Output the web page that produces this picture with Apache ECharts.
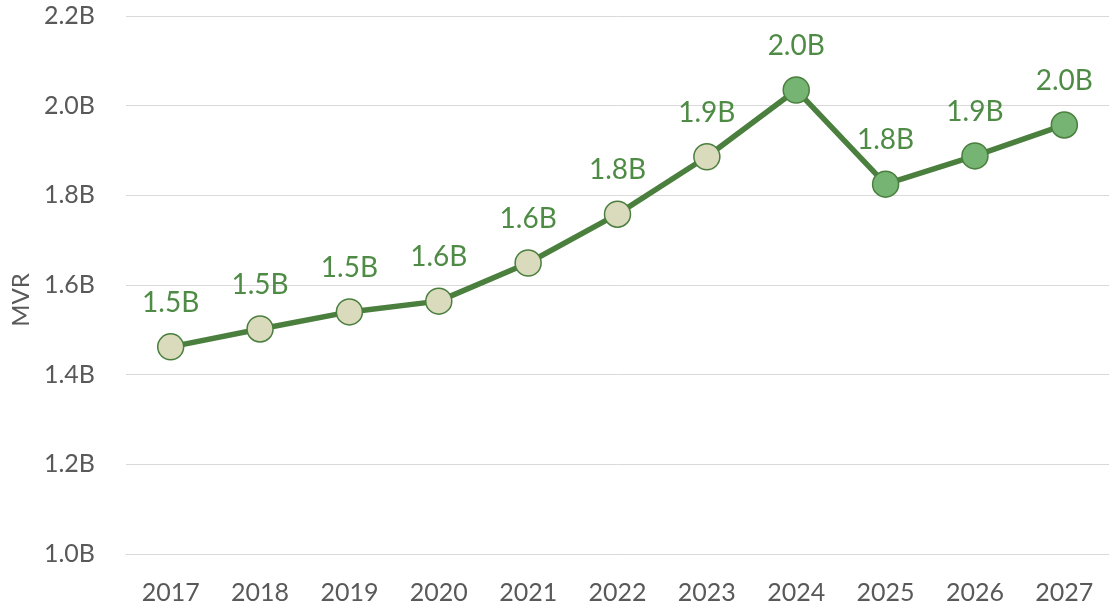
<!DOCTYPE html>
<html>
<head>
<meta charset="utf-8">
<script src="https://cdn.jsdelivr.net/npm/echarts@6/dist/echarts.min.js"></script>
<style>
  html, body { margin: 0; padding: 0; background: #fff; }
  #chart { width: 1109px; height: 605px; }
</style>
</head>
<body>
<div id="chart"></div>
<script>
var years = ['2017', '2018', '2019', '2020', '2021', '2022', '2023', '2024', '2025', '2026', '2027'];
var mvr = [1.462, 1.502, 1.540, 1.564, 1.649, 1.758, 1.886, 2.035, 1.825, 1.888, 1.957];
var forecast = [false, false, false, false, false, false, false, true, true, true, true];
var yTicks = [1.0, 1.2, 1.4, 1.6, 1.8, 2.0, 2.2];

var lineColor = '#4a7f3e';
var font = 'Lato, "Open Sans", sans-serif';

var data = [];
for (var i = 0; i < mvr.length; i++) {
  data.push({
    value: mvr[i],
    itemStyle: {
      color: forecast[i] ? '#75b472' : '#dadabc',
      borderColor: lineColor,
      borderWidth: 1.5
    }
  });
}

var chart = echarts.init(document.getElementById('chart'));

var option = {
  animation: false,
  grid: { left: 126, right: -11, top: 16, bottom: 51 },
  xAxis: {
    type: 'category',
    data: years,
    boundaryGap: true,
    axisLine: { show: true, lineStyle: { color: '#d9d9d9', width: 1 } },
    axisTick: { show: false },
    axisLabel: { color: '#595959', fontSize: 25, fontFamily: font, margin: 26 }
  },
  yAxis: {
    type: 'value',
    min: yTicks[0],
    max: yTicks[yTicks.length - 1],
    interval: 0.2,
    name: 'MVR',
    nameLocation: 'middle',
    nameGap: 92,
    nameTextStyle: { color: '#595959', fontSize: 24, fontFamily: font, padding: [0, 30, 0, 0] },
    axisLine: { show: false },
    axisTick: { show: false },
    splitLine: { lineStyle: { color: '#d9d9d9', width: 1 } },
    axisLabel: {
      color: '#595959', fontSize: 25, fontFamily: font, margin: 31,
      formatter: function (v) { return v.toFixed(1) + 'B'; }
    }
  },
  series: [{
    type: 'line',
    data: data,
    symbol: 'circle',
    symbolSize: 26,
    lineStyle: { color: lineColor, width: 5.5 },
    label: {
      show: true,
      position: 'top',
      distance: 16,
      color: '#4e8b45',
      fontSize: 28,
      fontFamily: font,
      formatter: function (p) { return p.value.toFixed(1) + 'B'; }
    }
  }]
};

chart.setOption(option);
</script>
</body>
</html>
